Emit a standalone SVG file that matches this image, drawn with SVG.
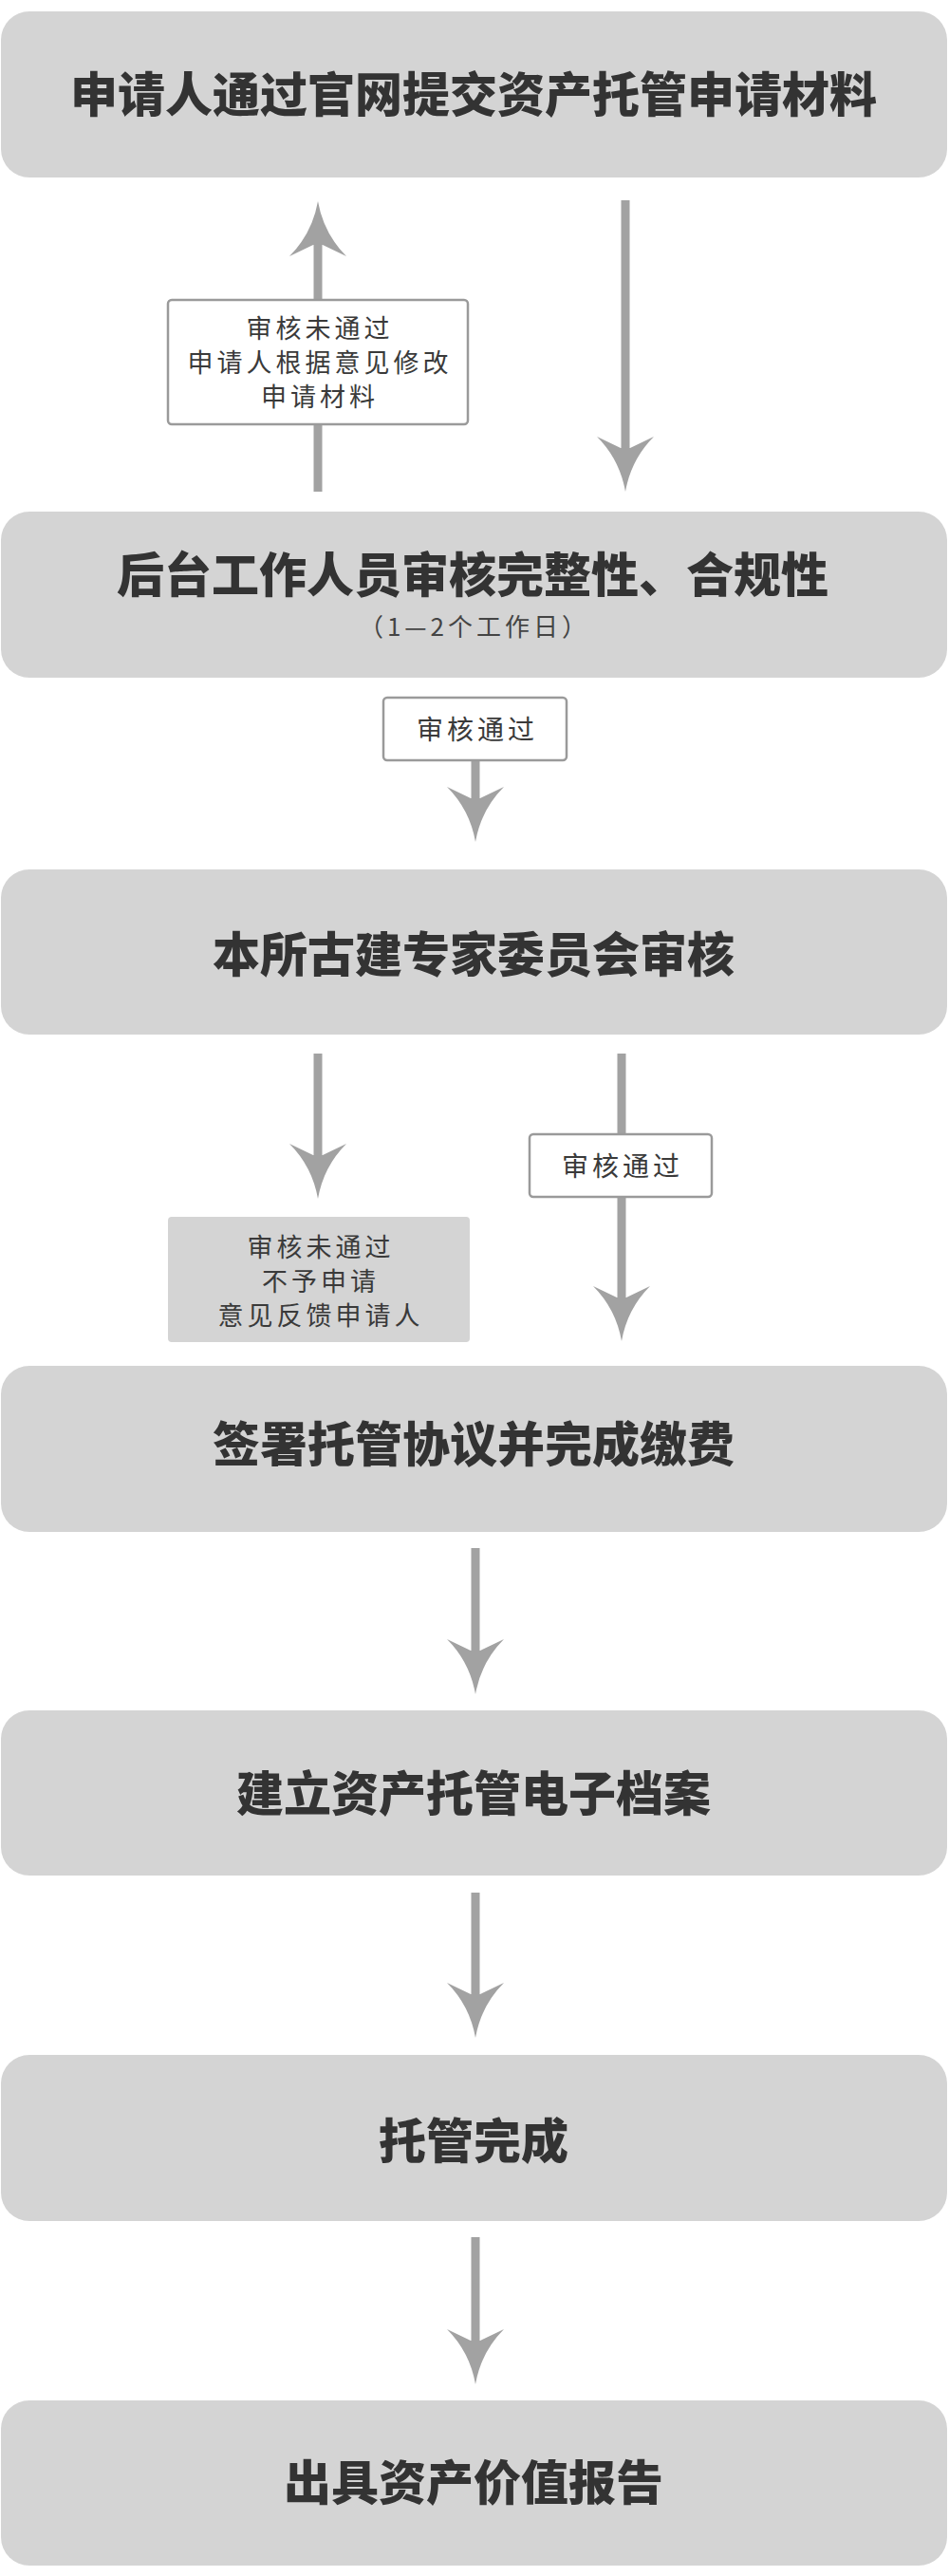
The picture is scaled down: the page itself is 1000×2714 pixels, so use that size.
<svg xmlns="http://www.w3.org/2000/svg" xmlns:xlink="http://www.w3.org/1999/xlink" width="1000" height="2714" viewBox="0 0 1000 2714">
<style>
.node{fill:#d4d4d4}
.title{font-family:"Noto Sans CJK SC","Noto Sans",sans-serif;font-weight:900;font-size:50px;fill:#333;text-anchor:middle}
.sub{font-family:"Noto Sans CJK SC","Noto Sans",sans-serif;font-weight:400;font-size:26px;fill:#444;text-anchor:middle;letter-spacing:4px}
.lbl{fill:#fff;stroke:#9a9a9a;stroke-width:2.5}
.glbl{fill:#d4d4d4}
.lt{font-family:"Noto Sans CJK SC","Noto Sans",sans-serif;font-weight:400;font-size:27px;fill:#3a3a3a;text-anchor:middle;letter-spacing:4px}
.lt2{font-family:"Noto Sans CJK SC","Noto Sans",sans-serif;font-weight:400;font-size:28px;fill:#3a3a3a;text-anchor:middle;letter-spacing:4px}
.shaft{stroke:#a2a2a2;stroke-width:9;fill:none}
.head{fill:#a2a2a2}
</style>
<defs>
<path id="ah" d="M0,0 Q-6,-34 -30,-58 L-5,-46 L5,-46 L30,-58 Q6,-34 0,0 Z"/>
</defs>
<g id="connectors">
<line class="shaft" x1="335" y1="518" x2="335" y2="256"/>
<use xlink:href="#ah" class="head" transform="translate(335,212) rotate(180)"/>
<line class="shaft" x1="659" y1="211" x2="659" y2="474"/>
<use xlink:href="#ah" class="head" transform="translate(659,518)"/>
<line class="shaft" x1="501" y1="801" x2="501" y2="843"/>
<use xlink:href="#ah" class="head" transform="translate(501,887)"/>
<line class="shaft" x1="335" y1="1110" x2="335" y2="1219"/>
<use xlink:href="#ah" class="head" transform="translate(335,1263)"/>
<line class="shaft" x1="655" y1="1110" x2="655" y2="1369"/>
<use xlink:href="#ah" class="head" transform="translate(655,1413)"/>
<line class="shaft" x1="501" y1="1631" x2="501" y2="1741"/>
<use xlink:href="#ah" class="head" transform="translate(501,1785)"/>
<line class="shaft" x1="501" y1="1994" x2="501" y2="2103"/>
<use xlink:href="#ah" class="head" transform="translate(501,2147)"/>
<line class="shaft" x1="501" y1="2357" x2="501" y2="2468"/>
<use xlink:href="#ah" class="head" transform="translate(501,2512)"/>
</g>
<g id="label-reject1">
<rect class="lbl" x="177" y="316" width="316" height="131" rx="4"/>
<text class="lt" x="337" y="355.5">审核未通过</text>
<text class="lt" x="337" y="391.5">申请人根据意见修改</text>
<text class="lt" x="337" y="427.5">申请材料</text>
</g>
<g id="label-pass1">
<rect class="lbl" x="404" y="735" width="193" height="66" rx="4"/>
<text class="lt2" x="503" y="779">审核通过</text>
</g>
<g id="label-reject2">
<rect class="glbl" x="177" y="1282" width="318" height="132" rx="4"/>
<text class="lt" x="338" y="1323.5">审核未通过</text>
<text class="lt" x="338" y="1359.5">不予申请</text>
<text class="lt" x="338" y="1395.5">意见反馈申请人</text>
</g>
<g id="label-pass2">
<rect class="lbl" x="558" y="1195" width="192" height="66" rx="4"/>
<text class="lt2" x="656" y="1239">审核通过</text>
</g>
<g id="n1">
<rect class="node" x="1" y="12" width="997" height="175" rx="30"/>
<text class="title" x="499" y="118">申请人通过官网提交资产托管申请材料</text>
</g>
<g id="n2">
<rect class="node" x="1" y="539" width="997" height="175" rx="30"/>
<text class="title" x="498" y="624">后台工作人员审核完整性、合规性</text>
<text class="sub" x="500" y="670">（1—2个工作日）</text>
</g>
<g id="n3">
<rect class="node" x="1" y="916" width="997" height="174" rx="30"/>
<text class="title" x="499" y="1024">本所古建专家委员会审核</text>
</g>
<g id="n4">
<rect class="node" x="1" y="1439" width="997" height="175" rx="30"/>
<text class="title" x="499" y="1540">签署托管协议并完成缴费</text>
</g>
<g id="n5">
<rect class="node" x="1" y="1802" width="997" height="174" rx="30"/>
<text class="title" x="499" y="1908">建立资产托管电子档案</text>
</g>
<g id="n6">
<rect class="node" x="1" y="2165" width="997" height="175" rx="30"/>
<text class="title" x="499" y="2274">托管完成</text>
</g>
<g id="n7">
<rect class="node" x="1" y="2529" width="997" height="174" rx="30"/>
<text class="title" x="499" y="2634">出具资产价值报告</text>
</g>
</svg>
